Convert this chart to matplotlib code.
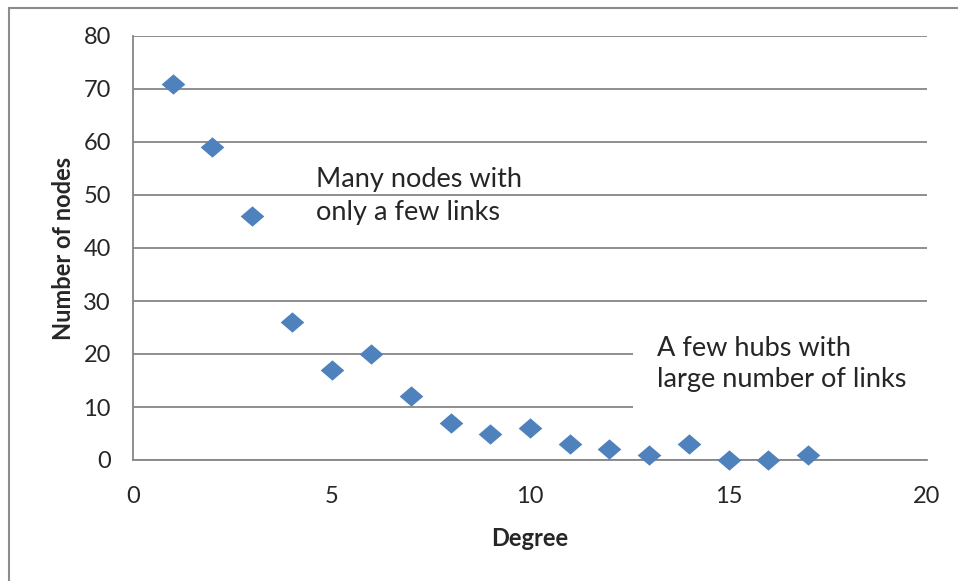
import matplotlib
matplotlib.use("Agg")
import matplotlib.pyplot as plt
from matplotlib.patches import Rectangle

# degree distribution
degree = [1, 2, 3, 4, 5, 6, 7, 8, 9, 10, 11, 12, 13, 14, 15, 16, 17]
num_nodes = [71, 59, 46, 26, 17, 20, 12, 7, 5, 6, 3, 2, 1, 3, 0, 0, 1]

x_ticks = [0, 5, 10, 15, 20]
y_ticks = [0, 10, 20, 30, 40, 50, 60, 70, 80]

marker_color = "#4F81BD"
axis_color = "#868686"
text_color = "#262626"
font_name = "Lato"
tick_size = 17
label_size = 17
note_size = 19.5

plt.rcParams["font.family"] = [font_name, "DejaVu Sans"]

# slightly flattened diamond, like the Excel marker
diamond = [(-1, 0), (0, 0.86), (1, 0), (0, -0.86), (-1, 0)]

fig = plt.figure(figsize=(9.58, 5.81), dpi=100, facecolor="white")
ax = fig.add_axes([133 / 958, 121 / 581, 794 / 958, 424 / 581])

ax.scatter(degree, num_nodes, marker=diamond, s=290, color=marker_color,
           zorder=3, clip_on=False, linewidths=0)

ax.set_xlim(0, 20)
ax.set_ylim(0, 80)
ax.set_xticks(x_ticks)
ax.set_yticks(y_ticks)
ax.tick_params(length=0, labelsize=tick_size, labelcolor=text_color)
ax.tick_params(axis="x", pad=19)
ax.tick_params(axis="y", pad=16)

ax.grid(axis="y", color=axis_color, linewidth=1.3)
ax.set_axisbelow(True)
for side in ["top", "right"]:
    ax.spines[side].set_visible(False)
for side in ["left", "bottom"]:
    ax.spines[side].set_color(axis_color)
    ax.spines[side].set_linewidth(1.3)

ax.set_xlabel("Degree", fontsize=label_size, fontweight="bold", color=text_color, labelpad=14)
ax.set_ylabel("Number of nodes", fontsize=label_size, fontweight="bold", color=text_color, labelpad=6)

# annotations
ax.text(316 / 958, 1 - 196 / 581, "Many nodes with\nonly a few links", transform=fig.transFigure,
        fontsize=note_size, color=text_color, va="center", ha="left", linespacing=1.4)
ax.text(657 / 958, 1 - 364 / 581, "A few hubs with\nlarge number of links", transform=fig.transFigure,
        fontsize=note_size, color=text_color, va="center", ha="left", linespacing=1.3, zorder=4,
        bbox=dict(facecolor="white", edgecolor="none", boxstyle="square,pad=0.9"))

# outer frame of the chart
fig.add_artist(Rectangle((9 / 958, -0.1), 1.2, 1.1 - 8 / 581, transform=fig.transFigure,
                         fill=False, edgecolor="#8c8c8c", linewidth=1.5))

fig.savefig("out.png", dpi=100)
